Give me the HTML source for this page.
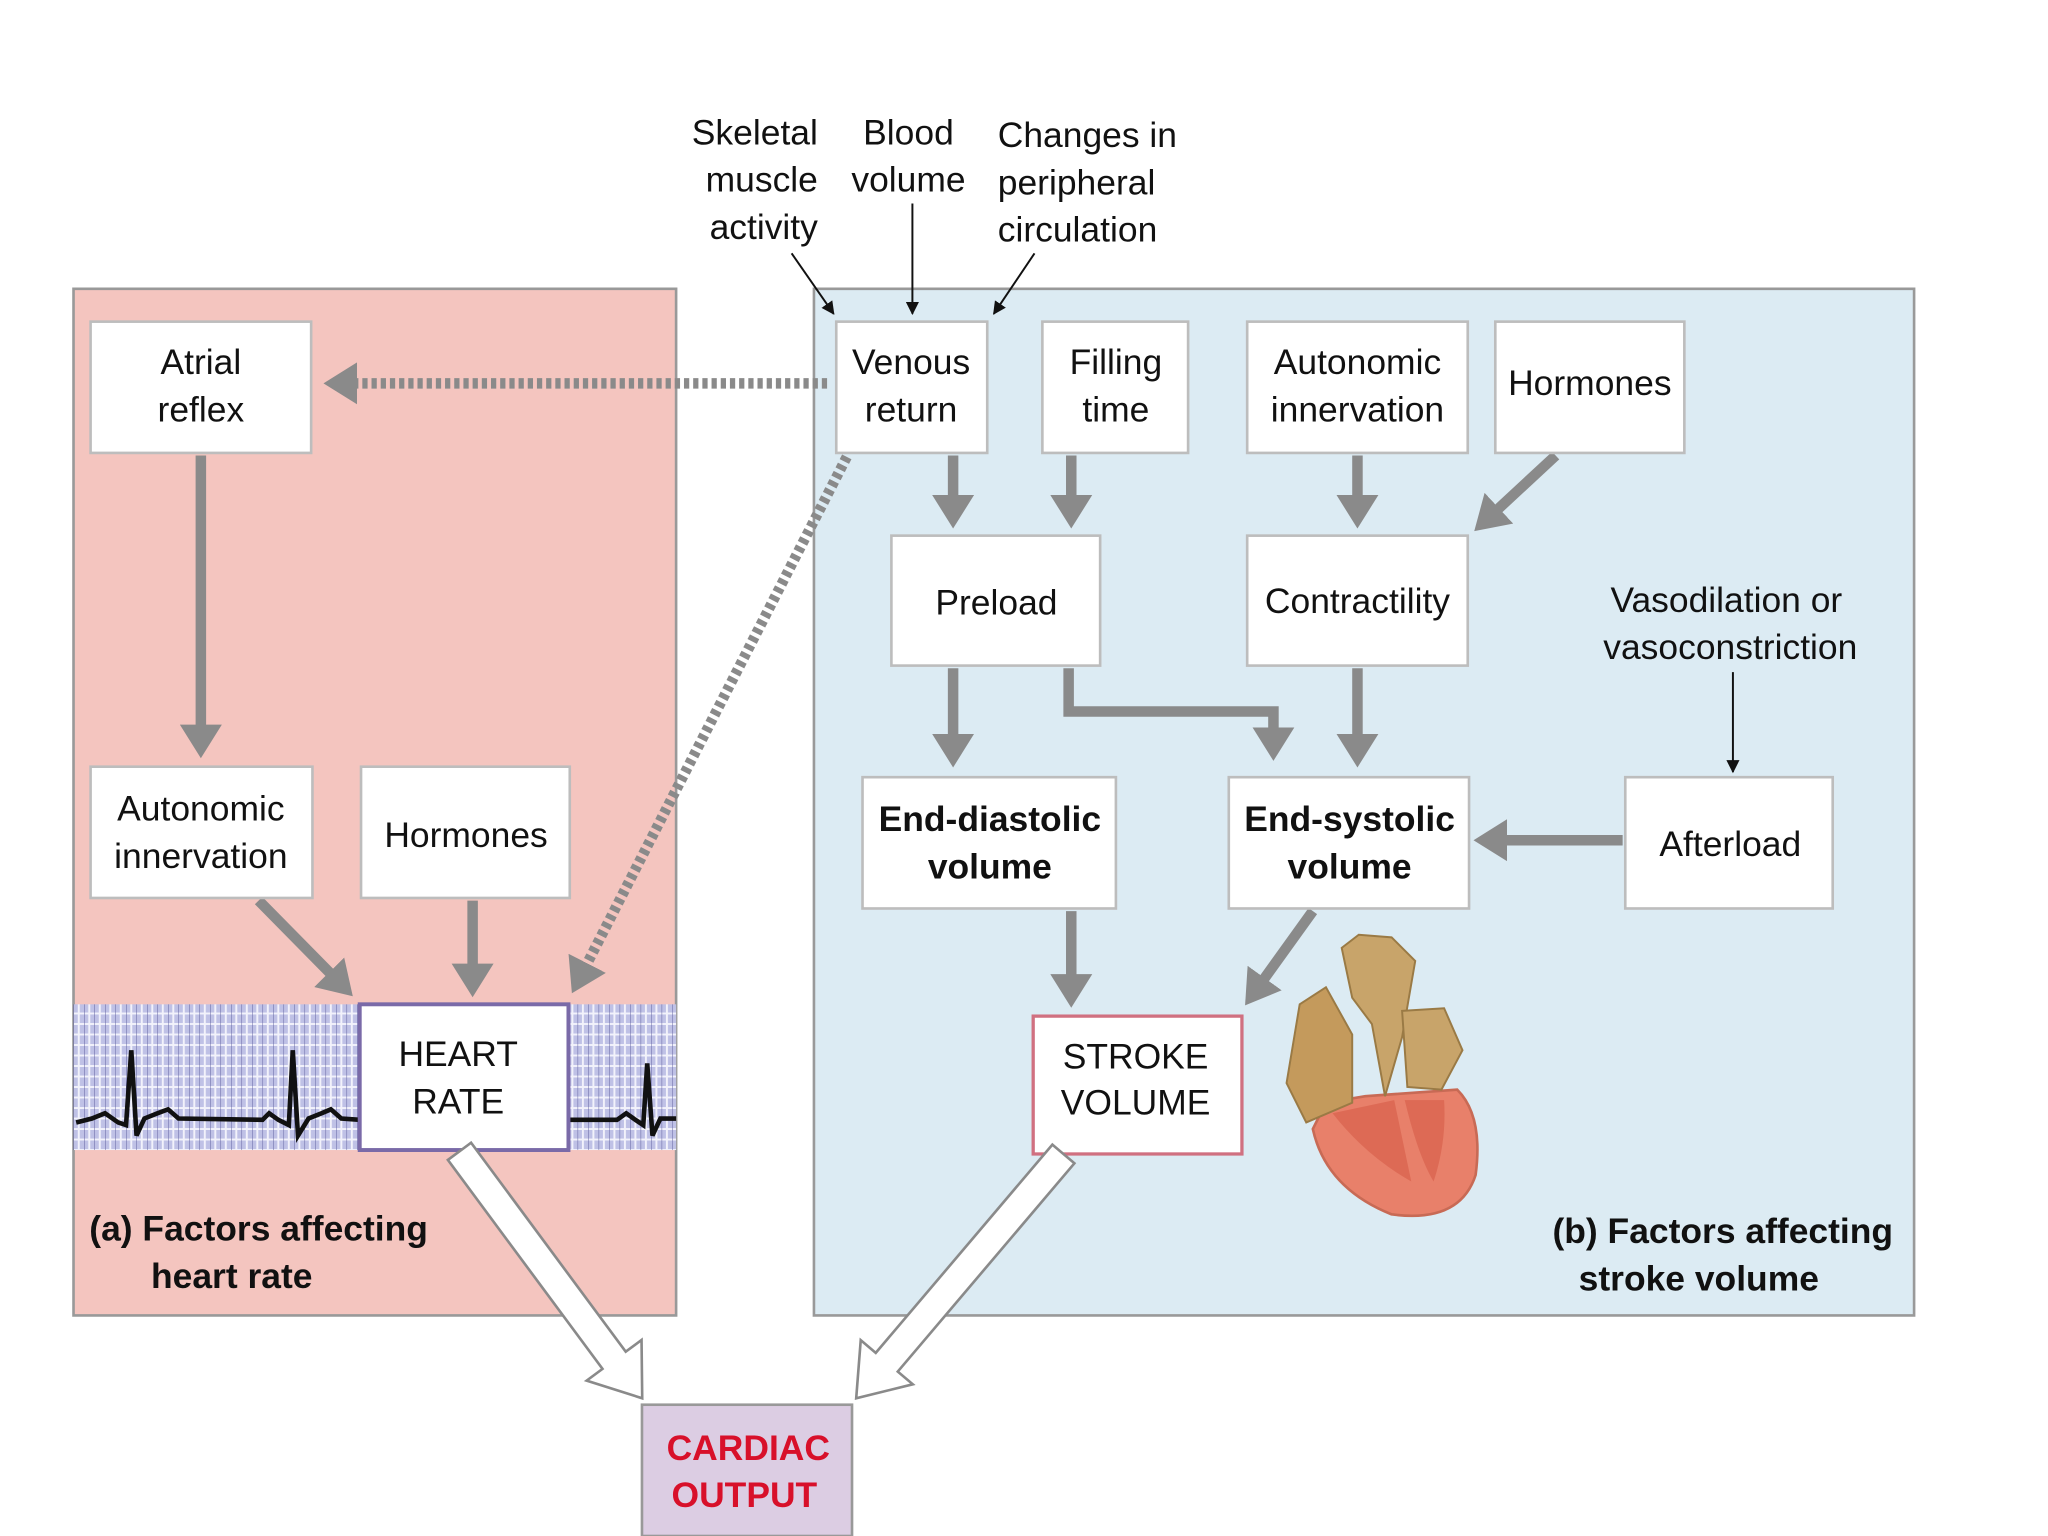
<!DOCTYPE html>
<html><head><meta charset="utf-8"><style>
html,body{margin:0;padding:0;background:#fff;}
svg{display:block;}
text{font-family:"Liberation Sans",sans-serif;font-size:27px;fill:#111;}
.b{font-weight:bold;}
</style></head><body>
<svg width="2048" height="1536" viewBox="0 0 1560 1170" preserveAspectRatio="none" xmlns="http://www.w3.org/2000/svg">
<defs>
<marker id="ga" markerWidth="4" markerHeight="4" refX="2" refY="2" orient="auto" markerUnits="strokeWidth"><path d="M0,0 L3.2,2 L0,4 Z" fill="#8a8a8a"/></marker>
<marker id="ka" markerWidth="10" markerHeight="10" refX="9" refY="5" orient="auto" markerUnits="userSpaceOnUse"><path d="M0,0 L10,5 L0,10 Z" fill="#111"/></marker>
<pattern id="grid" width="8" height="8" patternUnits="userSpaceOnUse"><rect width="8" height="8" fill="#bfc1e6"/><path d="M0,4H8M4,0V8" stroke="#f2f2fb" stroke-width="1.5"/><path d="M0,0V8" stroke="#5a5a9a" stroke-width="0.7"/></pattern>
</defs>
<rect x="56" y="220" width="459" height="782" fill="#f4c5bf" stroke="#999" stroke-width="2"/>
<rect x="620" y="220" width="838" height="782" fill="#dcebf3" stroke="#999" stroke-width="2"/>
<rect x="56" y="765" width="459" height="111" fill="url(#grid)"/>
<path d="M58,855 L70,852 L80,848 L90,855 L96,857 L100,800 L104,865 L110,852 L120,848 L128,845 L136,852 L200,853 L205,848 L212,853 L220,857 L223,800 L227,865 L235,852 L245,848 L252,845 L260,852 L274,853" fill="none" stroke="#111" stroke-width="3.5"/>
<path d="M433,853 L470,853 L477,848 L484,853 L490,857 L493,810 L497,865 L503,852 L515,852" fill="none" stroke="#111" stroke-width="3.5"/>
<g text-anchor="end"><text x="623" y="110">Skeletal</text><text x="623" y="146">muscle</text><text x="623" y="182">activity</text></g>
<g text-anchor="middle"><text x="692" y="110">Blood</text><text x="692" y="146">volume</text></g>
<text x="760" y="112">Changes in</text><text x="760" y="148">peripheral</text><text x="760" y="184">circulation</text>
<g stroke="#111" stroke-width="1.5" marker-end="url(#ka)">
<line x1="603" y1="193" x2="635" y2="239"/><line x1="695" y1="155" x2="695" y2="239"/><line x1="788" y1="193" x2="757" y2="239"/>
<line x1="1320" y1="512" x2="1320" y2="588"/>
</g>
<g stroke="#8a8a8a" stroke-width="8" fill="none" marker-end="url(#ga)">
<line x1="153" y1="347" x2="153" y2="568"/>
<line x1="197" y1="686" x2="262" y2="752"/>
<line x1="360" y1="686" x2="360" y2="750"/>
<line x1="726" y1="347" x2="726" y2="393"/>
<line x1="816" y1="347" x2="816" y2="393"/>
<line x1="1034" y1="347" x2="1034" y2="393"/>
<line x1="1185" y1="347" x2="1130" y2="398"/>
<line x1="726" y1="509" x2="726" y2="575"/>
<polyline points="814,509 814,542 970,542 970,570"/>
<line x1="1034" y1="509" x2="1034" y2="575"/>
<line x1="1236" y1="640" x2="1132" y2="640"/>
<line x1="816" y1="694" x2="816" y2="758"/>
<line x1="1000" y1="694" x2="954" y2="758"/>
</g>
<g stroke="#8a8a8a" stroke-width="8" fill="none" stroke-dasharray="4 3" marker-end="url(#ga)">
<line x1="630" y1="292" x2="256" y2="292"/>
<line x1="645" y1="348" x2="440" y2="748"/>
</g>
<g fill="#fff" stroke="#bdbdbd" stroke-width="2">
<rect x="69" y="245" width="168" height="100"/>
<rect x="637" y="245" width="115" height="100"/>
<rect x="794" y="245" width="111" height="100"/>
<rect x="950" y="245" width="168" height="100"/>
<rect x="1139" y="245" width="144" height="100"/>
<rect x="679" y="408" width="159" height="99"/>
<rect x="950" y="408" width="168" height="99"/>
<rect x="1238" y="592" width="158" height="100"/>
<rect x="657" y="592" width="193" height="100"/>
<rect x="936" y="592" width="183" height="100"/>
<rect x="69" y="584" width="169" height="100"/>
<rect x="275" y="584" width="159" height="100"/>
</g>
<rect x="274" y="765" width="159" height="111" fill="#fff" stroke="#7a6aa8" stroke-width="3"/>
<rect x="787" y="774" width="159" height="105" fill="#fff" stroke="#d07080" stroke-width="2.5"/>
<rect x="489" y="1070" width="160" height="100" fill="#dccde3" stroke="#999" stroke-width="2"/>
<g text-anchor="middle">
<text x="153" y="285">Atrial</text><text x="153" y="321">reflex</text>
<text x="694" y="285">Venous</text><text x="694" y="321">return</text>
<text x="850" y="285">Filling</text><text x="850" y="321">time</text>
<text x="1034" y="285">Autonomic</text><text x="1034" y="321">innervation</text>
<text x="1211" y="301">Hormones</text>
<text x="759" y="468">Preload</text>
<text x="1034" y="467">Contractility</text>
<text x="1315" y="466">Vasodilation or</text><text x="1318" y="502">vasoconstriction</text>
<text x="1318" y="652">Afterload</text>
<text x="754" y="633" class="b">End-diastolic</text><text x="754" y="669" class="b">volume</text>
<text x="1028" y="633" class="b">End-systolic</text><text x="1028" y="669" class="b">volume</text>
<text x="153" y="625">Autonomic</text><text x="153" y="661">innervation</text>
<text x="355" y="645">Hormones</text>
<text x="349" y="812">HEART</text><text x="349" y="848">RATE</text>
<text x="865" y="814">STROKE</text><text x="865" y="849">VOLUME</text>
<text x="570" y="1112" class="b" style="fill:#d8102a">CARDIAC</text><text x="567" y="1148" class="b" style="fill:#d8102a">OUTPUT</text>
<text x="1294" y="983" class="b">stroke volume</text>
</g>
<text x="68" y="945" class="b">(a) Factors affecting</text>
<text x="115" y="981" class="b">heart rate</text>
<text x="1442" y="947" class="b" text-anchor="end">(b) Factors affecting</text>
<g fill="#fff" stroke="#8a8a8a" stroke-width="2">
<g transform="translate(350,877) rotate(53.5)"><path d="M0,-11 L198,-11 L198,-26 L234,0 L198,26 L198,11 L0,11 Z"/></g>
<g transform="translate(810,879) rotate(130.3)"><path d="M0,-11 L208,-11 L208,-26 L244,0 L208,26 L208,11 L0,11 Z"/></g>
</g>
<!-- heart -->
<g>
<path d="M1000,860 Q1010,905 1060,925 Q1112,932 1124,895 Q1130,850 1110,830 L1040,835 L1010,840 Z" fill="#e8806a" stroke="#c86a55" stroke-width="2"/>
<path d="M1015,848 Q1040,880 1075,900 L1062,838 Z" fill="#dd6a55"/>
<path d="M1070,838 Q1080,880 1092,900 Q1102,870 1100,838 Z" fill="#dd6a55"/>
<path d="M1022,722 L1035,712 L1060,714 L1078,732 L1068,790 L1055,835 L1045,780 L1030,760 Z" fill="#c8a46a" stroke="#9a7a45" stroke-width="1.5"/>
<path d="M990,765 L1010,752 L1030,788 L1030,840 L995,855 L980,825 Z" fill="#c49a5c" stroke="#9a7a45" stroke-width="1.5"/>
<path d="M1068,770 L1100,768 L1114,800 L1098,830 L1072,828 Z" fill="#c8a46a" stroke="#9a7a45" stroke-width="1.5"/>
</g>
</svg>
</body></html>
